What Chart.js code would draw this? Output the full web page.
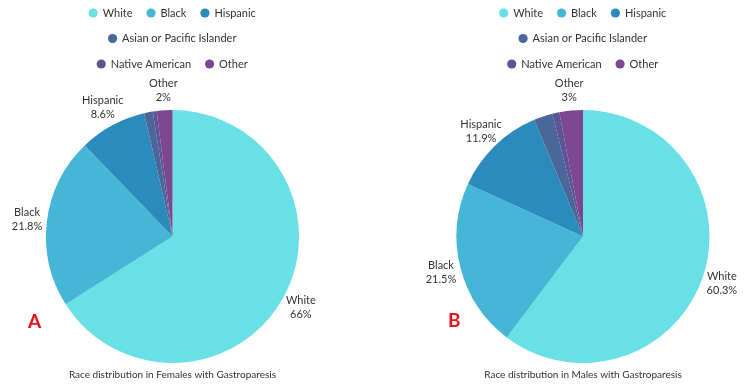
<!DOCTYPE html>
<html>
<head>
<meta charset="utf-8">
<script src="https://cdn.jsdelivr.net/npm/chart.js@4"></script>
<style>
  html, body { margin: 0; padding: 0; background: #fff; }
  body { width: 750px; height: 388px; position: relative; overflow: hidden; font-family: Lato, sans-serif; }
  .panel { position: absolute; top: -7px; height: 395px; }
  #femaleWrap { left: 0; width: 345px; }
  #maleWrap { left: 375px; width: 375px; }
  .tag { position: absolute; color: #e8121c; font: bold 19px Lato, sans-serif; }
</style>
</head>
<body>
<div class="panel" id="femaleWrap"><canvas id="femaleChart"></canvas></div>
<div class="panel" id="maleWrap"><canvas id="maleChart"></canvas></div>
<div class="tag" style="left:28px; top:309px;">A</div>
<div class="tag" style="left:448px; top:308px;">B</div>
<script>
const categories = ["White", "Black", "Hispanic", "Asian or Pacific Islander", "Native American", "Other"];
const femaleValues = [66, 21.8, 8.6, 1.1, 0.5, 2];
const maleValues = [60.3, 21.5, 11.9, 2.4, 0.9, 3];
const sliceColors = ["#68e0e6", "#45b6d6", "#2c8bbd", "#4b6698", "#5b5496", "#7c4690"];
const femaleTitle = "Race distribution in Females with Gastroparesis";
const maleTitle = "Race distribution in Males with Gastroparesis";

// only these slices get a label next to them
const labeledCategories = ["White", "Black", "Hispanic", "Other"];

// labels outside the pie, name on one line and percent under it
const outerLabels = {
  id: "outerLabels",
  afterDatasetsDraw(chart) {
    const ctx = chart.ctx;
    const meta = chart.getDatasetMeta(0);
    const values = chart.data.datasets[0].data;
    const names = chart.data.labels;
    ctx.save();
    ctx.font = "11px Lato, sans-serif";
    ctx.fillStyle = "#333";
    ctx.textAlign = "center";
    ctx.textBaseline = "middle";
    meta.data.forEach((arc, i) => {
      if (!labeledCategories.includes(names[i])) return;
      const p = arc.getProps(["x", "y", "startAngle", "endAngle", "outerRadius"], true);
      const mid = (p.startAngle + p.endAngle) / 2;
      const r = p.outerRadius + 20;
      const x = p.x + Math.cos(mid) * r;
      const y = p.y + Math.sin(mid) * r;
      ctx.fillText(names[i], x, y - 7);
      ctx.fillText(values[i] + "%", x, y + 7);
    });
    ctx.restore();
  }
};

// push the pie down so it sits below the legend
const legendSpace = {
  id: "legendSpace",
  beforeInit(chart) {
    const origFit = chart.legend.fit;
    chart.legend.fit = function () {
      origFit.bind(chart.legend)();
      this.height = 117;
    };
  }
};

function makePie(canvasId, values, title, padLeft, padRight) {
  return new Chart(document.getElementById(canvasId), {
    type: "pie",
    data: {
      labels: categories,
      datasets: [{
        data: values,
        backgroundColor: sliceColors,
        borderWidth: 0
      }]
    },
    plugins: [outerLabels, legendSpace],
    options: {
      responsive: true,
      maintainAspectRatio: false,
      animation: false,
      layout: { padding: { left: padLeft, right: padRight, top: 0, bottom: 0 } },
      plugins: {
        legend: {
          position: "top",
          align: "center",
          labels: {
            usePointStyle: true,
            pointStyle: "circle",
            boxWidth: 8,
            boxHeight: 6.5,
            padding: 14.5,
            color: "#333",
            font: { family: "Lato, sans-serif", size: 11 }
          }
        },
        title: {
          display: true,
          position: "bottom",
          text: title,
          color: "#333",
          font: { family: "Lato, sans-serif", size: 10, weight: "normal" },
          padding: { top: 6, bottom: 7 }
        },
        tooltip: { enabled: false }
      }
    }
  });
}

makePie("femaleChart", femaleValues, femaleTitle, 45, 45);
makePie("maleChart", maleValues, maleTitle, 80.5, 39.5);
</script>
</body>
</html>
